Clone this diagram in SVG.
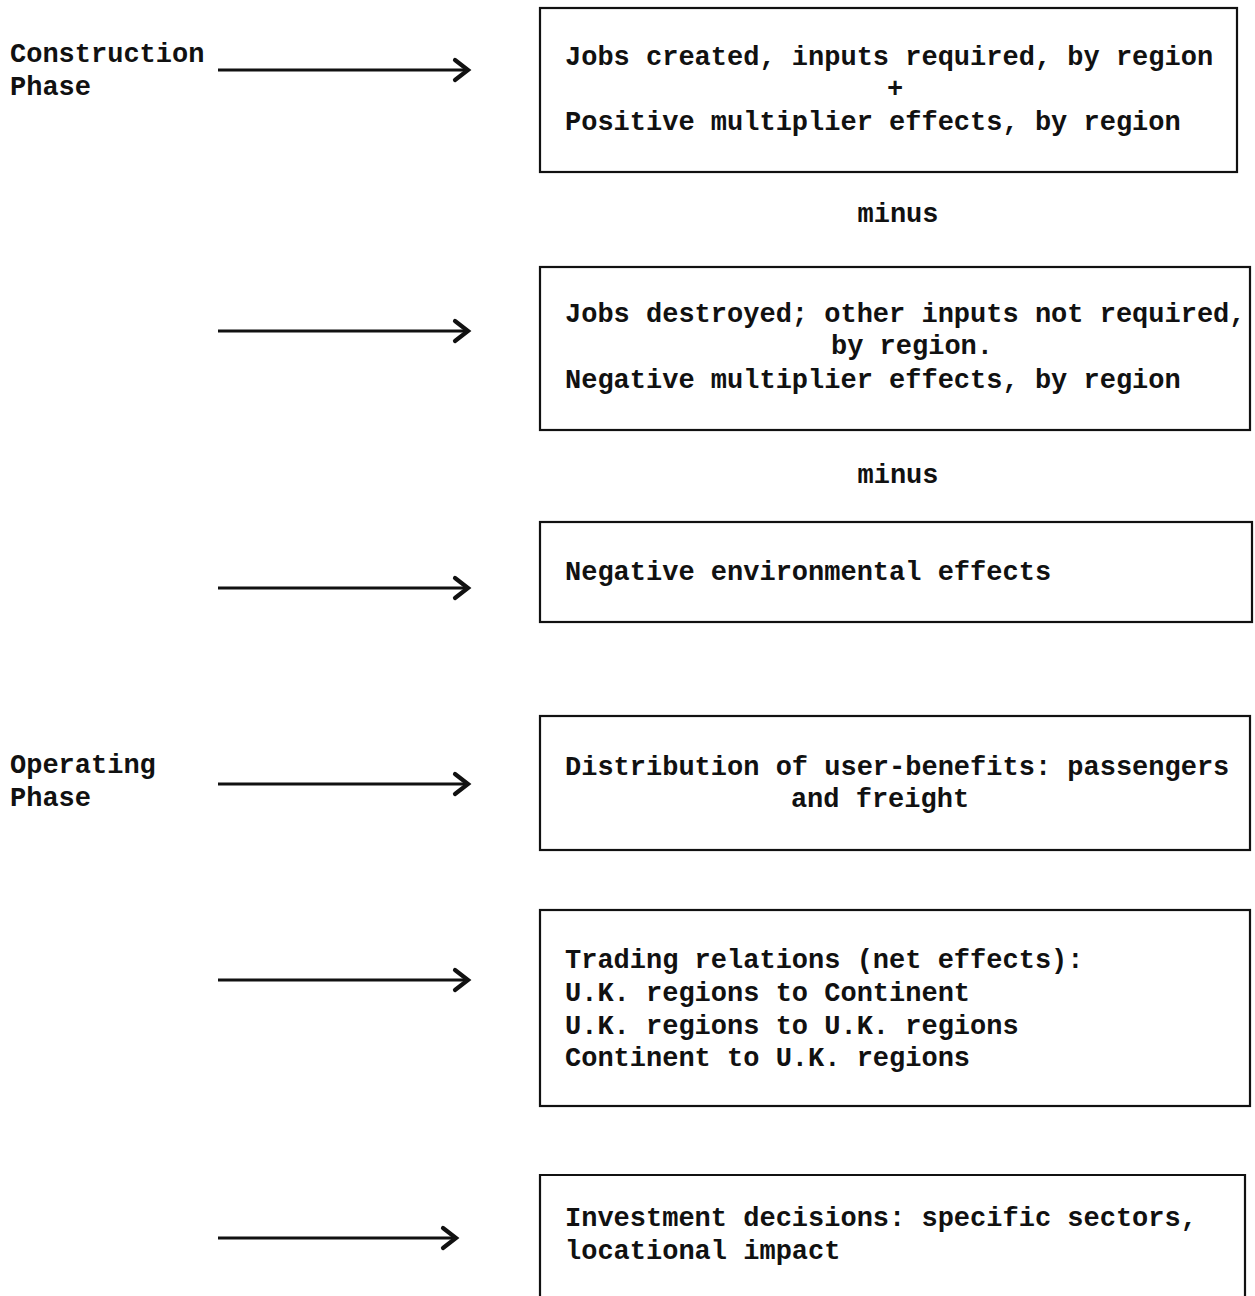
<svg xmlns="http://www.w3.org/2000/svg" width="1255" height="1296" viewBox="0 0 1255 1296">
<style>
text{font-family:"Liberation Mono","Courier New",monospace;font-size:27px;font-weight:bold;fill:#111}
.box{fill:none;stroke:#111;stroke-width:2.2}
.c{text-anchor:middle}
.arr{fill:none;stroke:#111;stroke-width:3}
</style>
<defs>
<marker id="ah" markerWidth="22" markerHeight="26" refX="17" refY="13" orient="auto" markerUnits="userSpaceOnUse">
<polyline points="4,3 17,13 4,23" fill="none" stroke="#111" stroke-width="4.2" stroke-linejoin="miter" stroke-linecap="round"/>
</marker>
</defs>
<rect width="1255" height="1296" fill="#fff"/>
<g id="label-construction"><text x="10" y="62">Construction</text><text x="10" y="95">Phase</text></g>
<g id="label-operating"><text x="10" y="773">Operating</text><text x="10" y="806">Phase</text></g>
<g id="connectors">
<line class="arr" x1="218" y1="70" x2="468" y2="70" marker-end="url(#ah)"/>
<line class="arr" x1="218" y1="331" x2="468" y2="331" marker-end="url(#ah)"/>
<line class="arr" x1="218" y1="588" x2="468" y2="588" marker-end="url(#ah)"/>
<line class="arr" x1="218" y1="784" x2="468" y2="784" marker-end="url(#ah)"/>
<line class="arr" x1="218" y1="980" x2="468" y2="980" marker-end="url(#ah)"/>
<line class="arr" x1="218" y1="1238" x2="456" y2="1238" marker-end="url(#ah)"/>
</g>
<g id="box-construction-positive">
<rect class="box" x="540" y="8" width="697" height="164"/>
<text x="565" y="65">Jobs created, inputs required, by region</text>
<text class="c" x="895" y="97">+</text>
<text x="565" y="130">Positive multiplier effects, by region</text>
</g>
<g id="minus-1"><text class="c" x="898" y="222">minus</text></g>
<g id="box-construction-negative">
<rect class="box" x="540" y="267" width="710" height="163"/>
<text x="565" y="322">Jobs destroyed; other inputs not required,</text>
<text class="c" x="912" y="354">by region.</text>
<text x="565" y="388">Negative multiplier effects, by region</text>
</g>
<g id="minus-2"><text class="c" x="898" y="483">minus</text></g>
<g id="box-environmental">
<rect class="box" x="540" y="522" width="712" height="100"/>
<text x="565" y="580">Negative environmental effects</text>
</g>
<g id="box-user-benefits">
<rect class="box" x="540" y="716" width="710" height="134"/>
<text x="565" y="775">Distribution of user-benefits: passengers</text>
<text class="c" x="880" y="807">and freight</text>
</g>
<g id="box-trading">
<rect class="box" x="540" y="910" width="710" height="196"/>
<text x="565" y="968">Trading relations (net effects):</text>
<text x="565" y="1001">U.K. regions to Continent</text>
<text x="565" y="1034">U.K. regions to U.K. regions</text>
<text x="565" y="1066">Continent to U.K. regions</text>
</g>
<g id="box-investment">
<path class="box" d="M540,1296 V1175 H1245 V1296"/>
<text x="565" y="1226">Investment decisions: specific sectors,</text>
<text x="565" y="1259">locational impact</text>
</g>
</svg>
